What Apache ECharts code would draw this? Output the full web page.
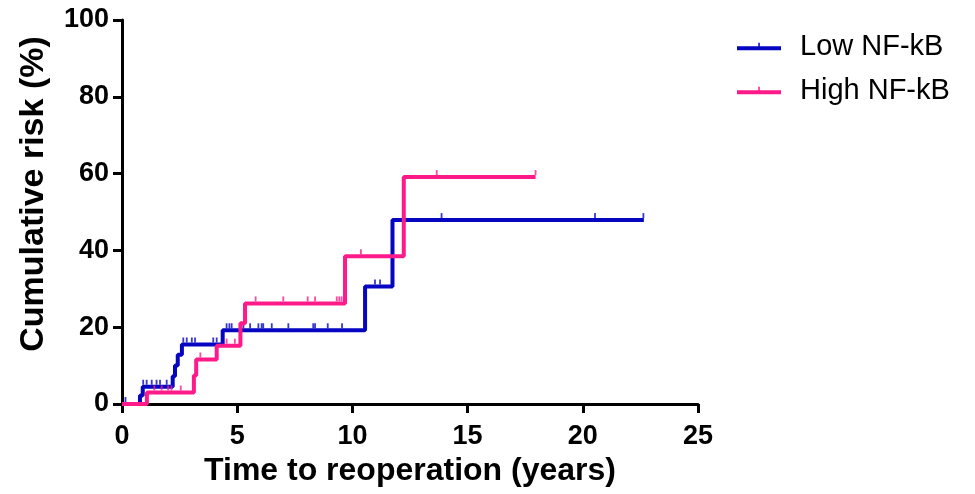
<!DOCTYPE html>
<html>
<head>
<meta charset="utf-8">
<script src="https://cdn.jsdelivr.net/npm/echarts@6/dist/echarts.min.js"></script>
<style>html,body{margin:0;padding:0;background:#fff}#c{width:975px;height:494px}</style>
</head>
<body>
<div id="c"></div>
<script>
// Step curves (time in years, cumulative risk %)
var lowTimes  = [0, 0.78, 0.9, 2.2, 2.3, 2.42, 2.6, 4.37, 10.55, 11.74, 22.65];
var lowRisk   = [0, 2.2, 4.5, 7.2, 10.0, 12.8, 15.5, 19.2, 30.6, 47.9, 47.9];
var highTimes = [0, 1.08, 3.12, 3.22, 4.11, 5.14, 5.34, 9.68, 12.23, 17.95];
var highRisk  = [0, 3.0, 7.4, 11.6, 15.2, 21.0, 26.2, 38.5, 59.1, 59.1];

// Censored observations (tick marks)
var lowCensorT = [0.15, 0.92, 1.07, 1.29, 1.5, 1.65, 1.94, 2.66, 2.81, 3.03, 3.17, 3.96, 4.11, 4.54, 4.66, 4.76, 5.27, 5.56, 5.92, 6.06, 6.13, 6.5, 7.22, 8.3, 8.38, 8.93, 9.55, 10.98, 11.2, 13.87, 20.53, 22.63];
var lowCensorV = [0, 4.5, 4.5, 4.5, 4.5, 4.5, 4.5, 15.5, 15.5, 15.5, 15.5, 15.5, 15.5, 19.2, 19.2, 19.2, 19.2, 19.2, 19.2, 19.2, 19.2, 19.2, 19.2, 19.2, 19.2, 19.2, 19.2, 30.6, 30.6, 47.9, 47.9, 47.9];
var highCensorT = [1.4, 1.72, 2.0, 2.15, 2.55, 3.4, 4.54, 4.9, 5.8, 7.0, 8.06, 8.38, 9.32, 9.43, 9.53, 10.37, 13.66, 17.95];
var highCensorV = [3.0, 3.0, 3.0, 3.0, 3.0, 11.6, 15.2, 15.2, 26.2, 26.2, 26.2, 26.2, 26.2, 26.2, 26.2, 38.5, 59.1, 59.1];

var xTicks = [0, 5, 10, 15, 20, 25];
var yTicks = [0, 20, 40, 60, 80, 100];
var seriesNames = ['Low NF-kB', 'High NF-kB'];
var colors = ['#0606c2', '#ff1a8a'];

function pairs(a, b) { return a.map(function (v, i) { return [v, b[i]]; }); }

var legendIcon = 'path://M0,4 L44,4 L44,8 L0,8 Z M21.3,0.5 L22.8,0.5 L22.8,4 L21.3,4 Z';
var font = 'Liberation Sans, Arial, sans-serif';

var chart = echarts.init(document.getElementById('c'), null, {renderer: 'canvas'});
chart.setOption({
  animation: false,
  backgroundColor: '#fff',
  grid: {left: 122, right: 277, top: 20, bottom: 90, containLabel: false},
  legend: {
    orient: 'vertical', left: 737, top: 32, itemGap: 15, padding: 0,
    itemWidth: 44, itemHeight: 7.5, selectedMode: false,
    textStyle: {fontFamily: font, fontSize: 29, color: '#000', padding: [0, 0, 0, 14]},
    data: [{name: seriesNames[0], icon: legendIcon}, {name: seriesNames[1], icon: legendIcon}]
  },
  xAxis: {
    type: 'value', min: xTicks[0], max: xTicks[xTicks.length - 1], interval: 5,
    name: 'Time to reoperation (years)', nameLocation: 'middle', nameGap: 47,
    nameTextStyle: {fontFamily: font, fontSize: 32, fontWeight: 'bold', color: '#000'},
    axisLine: {show: true, onZero: false, lineStyle: {color: '#000', width: 3}},
    axisTick: {show: true, length: 9, lineStyle: {color: '#000', width: 3}},
    axisLabel: {fontFamily: font, fontSize: 27, fontWeight: 'bold', color: '#000', margin: 19},
    splitLine: {show: false}
  },
  yAxis: {
    type: 'value', min: yTicks[0], max: yTicks[yTicks.length - 1], interval: 20,
    name: 'Cumulative risk (%)', nameLocation: 'middle', nameGap: 71, nameRotate: 90,
    nameTextStyle: {fontFamily: font, fontSize: 34, fontWeight: 'bold', color: '#000', padding: [0, 0, 0, 36]},
    axisLine: {show: true, onZero: false, lineStyle: {color: '#000', width: 3}},
    axisTick: {show: true, length: 9, lineStyle: {color: '#000', width: 3}},
    axisLabel: {fontFamily: font, fontSize: 27, fontWeight: 'bold', color: '#000', margin: 13},
    splitLine: {show: false}
  },
  series: [
    {name: seriesNames[0], type: 'line', step: 'end', showSymbol: false, data: pairs(lowTimes, lowRisk),
     lineStyle: {color: colors[0], width: 4}, itemStyle: {color: colors[0]}, z: 3},
    {name: seriesNames[0] + ' censored', type: 'scatter', data: pairs(lowCensorT, lowCensorV),
     symbol: 'rect', symbolSize: [1.8, 5], symbolOffset: [0, -4.5], itemStyle: {color: colors[0]}, z: 3, silent: true},
    {name: seriesNames[1], type: 'line', step: 'end', showSymbol: false, data: pairs(highTimes, highRisk),
     lineStyle: {color: colors[1], width: 4}, itemStyle: {color: colors[1]}, z: 4},
    {name: seriesNames[1] + ' censored', type: 'scatter', data: pairs(highCensorT, highCensorV),
     symbol: 'rect', symbolSize: [1.8, 5], symbolOffset: [0, -4.5], itemStyle: {color: colors[1]}, z: 4, silent: true}
  ]
});
</script>
</body>
</html>
